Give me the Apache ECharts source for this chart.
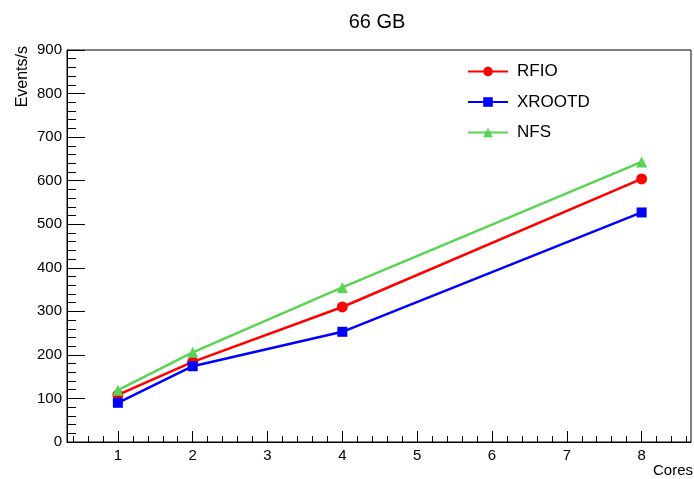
<!DOCTYPE html>
<html>
<head>
    <meta charset="utf-8" />
    <title>66 GB</title>
    <script type="text/javascript" src="https://cdn.jsdelivr.net/npm/echarts@6/dist/echarts.min.js"></script>
    <style>
        html, body { margin: 0; height: 100%; background: #fff; }
        #main { width: 694px; height: 479px; }
    </style>
</head>
<body>
    <div id="main"></div>
    <script type="text/javascript">
        // data
        var cores = [1, 2, 4, 8];
        var rfio = [108, 184, 310, 604];
        var xrootd = [90, 174, 253, 527];
        var nfs = [119, 206, 355, 643];
        var xMajor = [1, 2, 3, 4, 5, 6, 7, 8];
        var xMinor = [0.4, 0.6, 0.8, 1.2, 1.4, 1.6, 1.8, 2.2, 2.4, 2.6, 2.8, 3.2, 3.4, 3.6, 3.8,
            4.2, 4.4, 4.6, 4.8, 5.2, 5.4, 5.6, 5.8, 6.2, 6.4, 6.6, 6.8, 7.2, 7.4, 7.6, 7.8, 8.2, 8.4, 8.6];
        var yMinor = [20, 40, 60, 80, 120, 140, 160, 180, 220, 240, 260, 280, 320, 340, 360, 380,
            420, 440, 460, 480, 520, 540, 560, 580, 620, 640, 660, 680, 720, 740, 760, 780,
            820, 840, 860, 880];

        function pairs(ys) {
            return cores.map(function (c, i) { return [c, ys[i]]; });
        }

        var font = 'Liberation Sans, Arial, sans-serif';

        function line(name, ys, color, symbol, size) {
            return {
                name: name,
                type: 'line',
                data: pairs(ys),
                symbol: symbol,
                symbolSize: size,
                lineStyle: { color: color, width: 2.5 },
                itemStyle: { color: color },
                z: 3
            };
        }

        var myChart = echarts.init(document.getElementById('main'));
        myChart.setOption({
            animation: false,
            backgroundColor: '#fff',
            title: {
                text: '66 GB',
                left: 372,
                top: 7,
                textAlign: 'center',
                textStyle: { fontFamily: font, fontSize: 20, fontWeight: 'normal', color: '#000' }
            },
            legend: {
                orient: 'vertical',
                left: 467,
                top: 63,
                padding: 0,
                itemWidth: 40,
                itemHeight: 12,
                itemGap: 13.5,
                textStyle: { fontFamily: font, fontSize: 17, color: '#000', padding: [0, 0, 0, 4] },
                data: ['RFIO', 'XROOTD', 'NFS']
            },
            grid: {
                left: 67, top: 50, width: 624, height: 392,
                show: true, borderColor: '#000', borderWidth: 1
            },
            xAxis: [{
                type: 'value',
                position: 'bottom',
                min: 0.32, max: 8.66,
                splitLine: { show: false },
                axisLine: { lineStyle: { color: '#000', width: 1 } },
                axisTick: { inside: true, length: 11, customValues: xMajor, lineStyle: { color: '#000' } },
                axisLabel: { customValues: xMajor, margin: 6, color: '#000', fontFamily: font, fontSize: 15 }
            }, {
                type: 'value',
                position: 'bottom',
                min: 0.32, max: 8.66,
                splitLine: { show: false },
                axisLine: { show: false },
                axisTick: { inside: true, length: 6, customValues: xMinor, lineStyle: { color: '#000' } },
                axisLabel: { show: false }
            }],
            yAxis: [{
                type: 'value',
                position: 'left',
                min: 0, max: 900, interval: 100,
                splitLine: { show: false },
                axisLine: { show: true, lineStyle: { color: '#000', width: 1 } },
                axisTick: { inside: true, length: 18, lineStyle: { color: '#000' } },
                axisLabel: { margin: 5, color: '#000', fontFamily: font, fontSize: 15 }
            }, {
                type: 'value',
                position: 'left',
                min: 0, max: 900,
                splitLine: { show: false },
                axisLine: { show: false },
                axisTick: { inside: true, length: 9, customValues: yMinor, lineStyle: { color: '#000' } },
                axisLabel: { show: false }
            }],
            graphic: [{
                type: 'text',
                left: 15,
                top: 46,
                rotation: Math.PI / 2,
                style: { text: 'Events/s', fontFamily: font, fontSize: 16, fill: '#000', textAlign: 'right', textVerticalAlign: 'top' }
            }, {
                type: 'text',
                right: 1,
                top: 463,
                style: { text: 'Cores', fontFamily: font, fontSize: 15, fill: '#000' }
            }],
            series: [
                line('RFIO', rfio, '#ff0000', 'circle', 11),
                line('XROOTD', xrootd, '#0000ff', 'rect', 10),
                line('NFS', nfs, '#59d454', 'triangle', 11)
            ]
        });
    </script>
</body>
</html>
